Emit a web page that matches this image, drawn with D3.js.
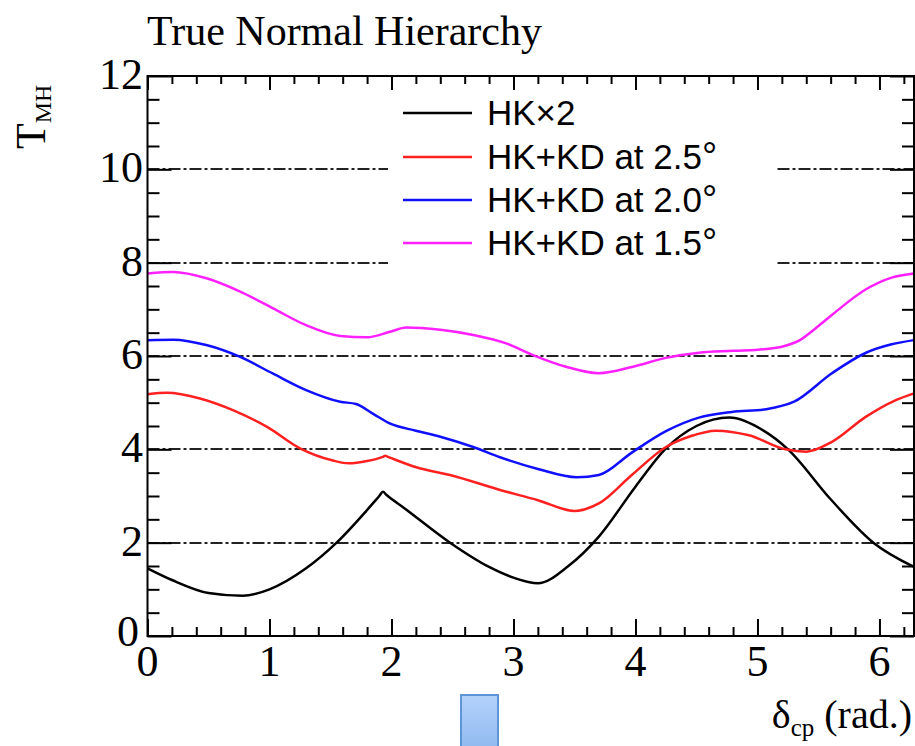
<!DOCTYPE html>
<html>
<head>
<meta charset="utf-8">
<script src="https://cdn.jsdelivr.net/npm/d3@7"></script>
<style>
  html, body { margin: 0; padding: 0; background: #fff; }
  svg { display: block; }
</style>
</head>
<body>
<svg id="chart" width="915" height="746"></svg>
<script>
// ---------- data ----------
const title = "True Normal Hierarchy";
const seriesNames = ["HK×2", "HK+KD at 2.5°", "HK+KD at 2.0°", "HK+KD at 1.5°"];
const seriesColors = ["#000000", "#ff2020", "#1010ff", "#ff20ff"];

const hk2X = [0, 0.2, 0.5, 0.78, 1.0, 1.3, 1.55, 1.8, 1.9, 1.93, 1.96, 2.1, 2.48, 2.8, 3.0, 3.2, 3.45, 3.7, 4.0, 4.25, 4.5, 4.77, 5.05, 5.25, 5.6, 5.95, 6.2832];
const hk2Y = [1.45, 1.2, 0.92, 0.86, 1.0, 1.45, 2.0, 2.70, 3.0, 3.09, 3.02, 2.75, 2.0, 1.48, 1.25, 1.13, 1.5, 2.13, 3.2, 4.02, 4.5, 4.68, 4.4, 4.0, 2.93, 2.0, 1.48];

const kd25X = [0, 0.16, 0.43, 0.7, 0.98, 1.25, 1.52, 1.65, 1.8, 1.93, 1.95, 1.97, 2.21, 2.48, 2.89, 3.2, 3.5, 3.7, 3.97, 4.25, 4.45, 4.66, 4.93, 5.23, 5.4, 5.61, 5.89, 6.13, 6.2832];
const kd25Y = [5.18, 5.21, 5.09, 4.84, 4.48, 4.02, 3.76, 3.70, 3.75, 3.84, 3.86, 3.84, 3.61, 3.45, 3.13, 2.91, 2.68, 2.84, 3.45, 4.05, 4.28, 4.40, 4.30, 4.0, 3.95, 4.16, 4.70, 5.05, 5.2];

const kd20X = [0, 0.21, 0.49, 0.76, 1.03, 1.30, 1.58, 1.71, 1.85, 1.99, 2.2, 2.40, 2.67, 2.89, 3.2, 3.52, 3.70, 3.97, 4.25, 4.52, 4.79, 5.07, 5.3, 5.61, 5.89, 6.1, 6.2832];
const kd20Y = [6.34, 6.35, 6.23, 5.98, 5.62, 5.27, 5.02, 4.97, 4.76, 4.55, 4.40, 4.27, 4.05, 3.83, 3.58, 3.40, 3.45, 3.93, 4.39, 4.68, 4.80, 4.86, 5.02, 5.63, 6.07, 6.25, 6.34];

const kd15X = [0, 0.21, 0.49, 0.76, 1.03, 1.30, 1.58, 1.80, 1.99, 2.12, 2.40, 2.67, 2.94, 3.16, 3.43, 3.70, 3.98, 4.25, 4.52, 4.80, 5.07, 5.2, 5.34, 5.47, 5.61, 5.89, 6.1, 6.2832];
const kd15Y = [7.77, 7.80, 7.66, 7.38, 7.02, 6.66, 6.43, 6.40, 6.52, 6.61, 6.56, 6.45, 6.27, 6.02, 5.77, 5.63, 5.77, 5.96, 6.07, 6.11, 6.15, 6.2, 6.33, 6.58, 6.88, 7.43, 7.68, 7.77];

const xTickLabels = [0, 1, 2, 3, 4, 5, 6];
const yTickLabels = [0, 2, 4, 6, 8, 10, 12];
const gridValues = [2, 4, 6, 8, 10];

// ---------- layout ----------
const svg = d3.select("#chart");
const L = 147.5, R = 914, T = 76, B = 636;
const x = d3.scaleLinear().domain([0, 2 * Math.PI]).range([L, R]);
const y = d3.scaleLinear().domain([0, 12]).range([B, T]);
const serif = "'Liberation Serif','Times New Roman',Times,serif";
const sans = "'Liberation Sans',Arial,Helvetica,sans-serif";

const defs = svg.append("defs");
const grad = defs.append("linearGradient").attr("id", "bluegrad").attr("x1", 0).attr("y1", 0).attr("x2", 0).attr("y2", 1);
grad.append("stop").attr("offset", "0%").attr("stop-color", "#b3d2fb");
grad.append("stop").attr("offset", "100%").attr("stop-color", "#8db7ee");

// grid lines (dash-dot)
svg.append("g").selectAll("line").data(gridValues).join("line")
  .attr("x1", L).attr("x2", R)
  .attr("y1", d => Math.round(y(d))).attr("y2", d => Math.round(y(d)))
  .attr("stroke", "#222").attr("stroke-width", 2)
  .attr("stroke-dasharray", "12,3,3,3");

// legend white box
svg.append("rect").attr("x", 388).attr("y", 82).attr("width", 387).attr("height", 186).attr("fill", "#fff");

// curves
const allSeries = [[hk2X, hk2Y], [kd25X, kd25Y], [kd20X, kd20Y], [kd15X, kd15Y]];
const line = d3.line().x(d => x(d[0])).y(d => y(d[1])).curve(d3.curveMonotoneX);
svg.append("g").selectAll("path").data(allSeries).join("path")
  .attr("d", s => line(s[0].map((v, i) => [v, s[1][i]])))
  .attr("fill", "none")
  .attr("stroke", (s, i) => seriesColors[i])
  .attr("stroke-width", 2.5)
  .attr("stroke-linejoin", "round");

// axes with ticks inside (ROOT style)
function addAxis(axisFn, scale, vals, len, transform) {
  const g = svg.append("g").attr("transform", transform)
    .call(axisFn(scale).tickValues(vals).tickSize(len).tickFormat(""));
  g.select(".domain").remove();
  g.selectAll("line").attr("stroke", "#000").attr("stroke-width", 2);
}
const xMajor = d3.range(0, 7, 1);
const xMinor = d3.range(0, 6.3, 0.2).filter(v => Math.abs(v - Math.round(v)) > 1e-6);
const yMajor = d3.range(0, 13, 2);
const yMinor = d3.range(0, 12.01, 0.5).filter(v => Math.abs(v / 2 - Math.round(v / 2)) > 1e-6);
addAxis(d3.axisTop, x, xMajor, 17, `translate(0,${B})`);
addAxis(d3.axisTop, x, xMinor, 9, `translate(0,${B})`);
addAxis(d3.axisBottom, x, xMajor, 14, `translate(0,${T})`);
addAxis(d3.axisBottom, x, xMinor, 8, `translate(0,${T})`);
addAxis(d3.axisRight, y, yMajor, 24, `translate(${L},0)`);
addAxis(d3.axisRight, y, yMinor, 12, `translate(${L},0)`);
addAxis(d3.axisLeft, y, yMajor, 24, `translate(${R},0)`);
addAxis(d3.axisLeft, y, yMinor, 12, `translate(${R},0)`);

// frame
svg.append("rect").attr("x", L).attr("y", T).attr("width", R - L).attr("height", B - T)
  .attr("fill", "none").attr("stroke", "#000").attr("stroke-width", 2);

// tick labels
svg.append("g").selectAll("text").data(xTickLabels).join("text")
  .attr("x", d => x(d)).attr("y", 676)
  .attr("text-anchor", "middle")
  .attr("font-family", serif).attr("font-size", 44)
  .text(d => d);
svg.append("g").selectAll("text").data(yTickLabels).join("text")
  .attr("x", d => d === 0 ? 139 : 143).attr("y", d => y(d) + (d === 0 ? 10 : 13))
  .attr("text-anchor", "end")
  .attr("font-family", serif).attr("font-size", 44)
  .text(d => d);

// title
svg.append("text").attr("x", 147).attr("y", 45)
  .attr("font-family", serif).attr("font-size", 42)
  .text(title);

// y axis title T_MH (rotated)
const yt = svg.append("text")
  .attr("transform", "translate(45,149) rotate(-90)")
  .attr("font-family", serif).attr("font-size", 42);
yt.append("tspan").text("T");
yt.append("tspan").attr("font-size", 24).attr("dy", 6).text("MH");

// x axis title
const xt = svg.append("text")
  .attr("x", 912).attr("y", 728).attr("text-anchor", "end")
  .attr("font-family", serif).attr("font-size", 40);
xt.append("tspan").text("δ");
xt.append("tspan").attr("font-size", 25).attr("dy", 8).text("cp");
xt.append("tspan").attr("dy", -8).text(" (rad.)");

// legend
const legY = [113, 157, 200, 243];
const lg = svg.append("g");
seriesNames.forEach((name, i) => {
  lg.append("line").attr("x1", 403).attr("x2", 472).attr("y1", legY[i]).attr("y2", legY[i])
    .attr("stroke", seriesColors[i]).attr("stroke-width", 2.5);
  const t = lg.append("text").attr("x", 487).attr("y", legY[i] + 12)
    .attr("font-family", sans).attr("font-size", 35);
  if (name.endsWith("°")) {
    t.append("tspan").text(name.slice(0, -1));
    t.append("tspan").attr("font-size", 38).text("°");
  } else {
    t.text(name);
  }
});

// decorative blue box at bottom
svg.append("rect").attr("x", 461).attr("y", 695).attr("width", 37).attr("height", 60)
  .attr("fill", "url(#bluegrad)").attr("stroke", "#5f95d6").attr("stroke-width", 2);
</script>
</body>
</html>
